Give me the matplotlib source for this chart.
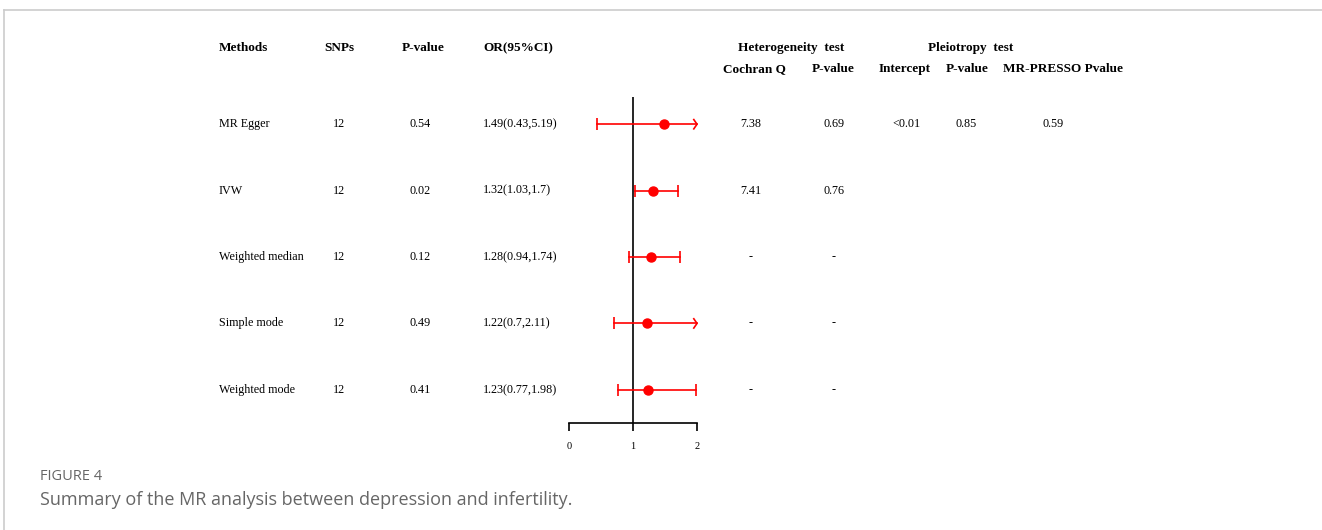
import matplotlib.pyplot as plt
import matplotlib.transforms as mtransforms
from matplotlib.lines import Line2D
import numpy as np

# data
methods = ['MR Egger', 'IVW', 'Weighted median', 'Simple mode', 'Weighted mode']
snps = [12, 12, 12, 12, 12]
pvals = ['0.54', '0.02', '0.12', '0.49', '0.41']
or_est = np.array([1.49, 1.32, 1.28, 1.22, 1.23])
ci_low = np.array([0.43, 1.03, 0.94, 0.70, 0.77])
ci_high = np.array([5.19, 1.70, 1.74, 2.11, 1.98])
cochran_q = ['7.38', '7.41', '-', '-', '-']
het_p = ['0.69', '0.76', '-', '-', '-']
intercept = ['<0.01', '', '', '', '']
pleio_p = ['0.85', '', '', '', '']
presso_p = ['0.59', '', '', '', '']
or_labels = ['%s(%s,%s)' % (f'{e:g}', f'{l:g}', f'{h:g}') for e, l, h in zip(or_est, ci_low, ci_high)]
xticks = [0, 1, 2]

W, H = 1322, 530
fig = plt.figure(figsize=(W / 100, H / 100), dpi=100)
fs = 8.7
fs_b = 9.5
serif = 'Liberation Serif'

# forest axis: x 0..2 -> px 569..697, y px 97..423
ax = fig.add_axes([569 / W, 1 - 423 / H, 128 / W, 326 / H])
ax.set_xlim(0, 2)
ax.set_ylim(4.5, -0.41)
for s in ['top', 'right', 'left']:
    ax.spines[s].set_visible(False)
ax.spines['bottom'].set_linewidth(1.2)
ax.set_yticks([])
ax.set_xticks(xticks)
ax.tick_params(axis='x', direction='out', length=6, width=1.2, pad=8, labelsize=7.5)
for t in ax.get_xticklabels():
    t.set_fontfamily(serif)
ax.axvline(1, color='black', lw=1.2)

rows = np.arange(len(methods))
for i in rows:
    hi = min(ci_high[i], 2)
    ax.plot([ci_low[i], hi], [i, i], color='red', lw=1.2, clip_on=False)
    ax.plot([ci_low[i]], [i], marker='|', color='red', ms=8, mew=1.2, clip_on=False)
    if ci_high[i] > 2:
        # clipped interval: open arrow head at the axis end
        ax.plot([hi - 0.05, hi, hi - 0.05], [i - 0.07, i, i + 0.07], color='red', lw=1.2, clip_on=False)
    else:
        ax.plot([hi], [i], marker='|', color='red', ms=8, mew=1.2, clip_on=False)
    ax.plot([or_est[i]], [i], 'o', color='red', ms=6.5, clip_on=False)

# table text
tr = mtransforms.blended_transform_factory(fig.transFigure, ax.transData)
def fx(px):
    return px / W

def row_text(px, vals, ha='center'):
    for i, v in enumerate(vals):
        fig.text(fx(px), i, v, transform=tr, ha=ha, va='center', fontsize=fs, fontfamily=serif)

row_text(219, methods, ha='left')
row_text(339, [str(s) for s in snps])
row_text(420, pvals)
row_text(483, or_labels, ha='left')
row_text(751, cochran_q)
row_text(834, het_p)
row_text(906, intercept)
row_text(966, pleio_p)
row_text(1053, presso_p)

def header(px, py, s, ha='center'):
    fig.text(fx(px), 1 - py / H, s, ha=ha, va='center', fontsize=fs_b, fontweight='bold', fontfamily=serif)

header(219, 48, 'Methods', ha='left')
header(339, 48, 'SNPs')
header(423, 48, 'P-value')
header(483, 48, 'OR(95%CI)', ha='left')
header(791, 48, 'Heterogeneity  test')
header(971, 48, 'Pleiotropy  test')
header(754, 69, 'Cochran Q')
header(833, 69, 'P-value')
header(905, 69, 'Intercept')
header(967, 69, 'P-value')
header(1063, 69, 'MR-PRESSO Pvalue')

# page frame and caption
fig.add_artist(Line2D([4 / W, 1], [1 - 10 / H, 1 - 10 / H], color='#cccccc', lw=1.2))
fig.add_artist(Line2D([4 / W, 4 / W], [0, 1 - 10 / H], color='#cccccc', lw=1.2))
fig.text(40 / W, 1 - 476 / H, 'FIGURE 4', fontsize=10.5, color='#666666', va='center', fontfamily='Open Sans')
fig.text(40 / W, 1 - 500 / H, 'Summary of the MR analysis between depression and infertility.',
         fontsize=13, color='#666666', va='center', fontfamily='Open Sans')

fig.savefig('out.png', dpi=100)
